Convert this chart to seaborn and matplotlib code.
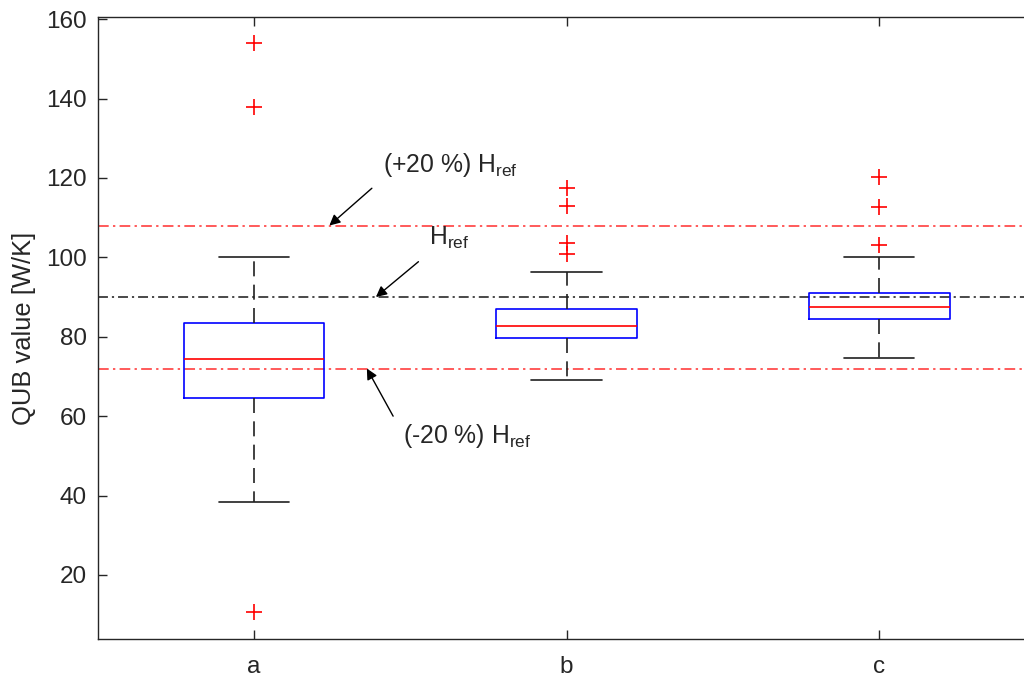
import matplotlib
matplotlib.use("Agg")
import matplotlib.pyplot as plt
import pandas as pd
import seaborn as sns

# five-number summary of each box
groups = ["a", "b", "c"]
whisker_low = [38.3, 69.1, 74.6]
q1 = [64.5, 79.7, 84.5]
median = [74.4, 82.6, 87.4]
q3 = [83.5, 87.0, 91.0]
whisker_high = [100.2, 96.3, 100.0]

# outliers (red crosses)
outlier_group = ["a", "a", "a", "b", "b", "b", "b", "c", "c", "c"]
outlier_value = [154.0, 137.9, 10.7, 117.5, 112.9, 103.6, 100.9, 120.2, 112.7, 103.2]

# reference levels
h_ref = 90
h_ref_plus = 108
h_ref_minus = 72

AXIS_COLOR = "#262626"


def main():
    sns.set_style("white")
    plt.rcParams["font.family"] = ["Liberation Sans", "DejaVu Sans"]
    plt.rcParams["text.color"] = AXIS_COLOR

    rows = []
    for i, g in enumerate(groups):
        for v in (whisker_low[i], q1[i], median[i], q3[i], whisker_high[i]):
            rows.append({"group": g, "value": v})
    box_df = pd.DataFrame(rows)
    out_df = pd.DataFrame({"group": outlier_group, "value": outlier_value})

    fig = plt.figure(figsize=(10.24, 6.77), dpi=100)
    ax = fig.add_axes([0.0954, 0.0557, 0.9046, 0.9196])

    # reference lines behind the boxes
    ref_ls = (0, (5.5, 2.2, 1.2, 2.2))
    ax.axhline(h_ref_plus, color="#ff5a5a", lw=1.4, ls=ref_ls, zorder=1)
    ax.axhline(h_ref, color="#3a3a3a", lw=1.3, ls=ref_ls, zorder=1)
    ax.axhline(h_ref_minus, color="#ff5a5a", lw=1.4, ls=ref_ls, zorder=1)

    sns.boxplot(data=box_df, x="group", y="value", order=groups, whis=(0, 100),
                width=0.45, fill=False, color="blue", linewidth=1.2,
                boxprops=dict(color="blue"),
                medianprops=dict(color="red"),
                whiskerprops=dict(color="#202020", linestyle=(0, (9, 5))),
                capprops=dict(color="#202020"),
                ax=ax)
    sns.stripplot(data=out_df, x="group", y="value", order=groups, jitter=False,
                  marker="+", color="red", size=11.5, linewidth=1.2, ax=ax)

    arrow = dict(arrowstyle="-|>", color="black", lw=1.0, mutation_scale=16, shrinkA=0, shrinkB=0)
    ax.annotate("", xy=(0.241, 108), xytext=(0.377, 117.4), arrowprops=arrow)
    ax.annotate("", xy=(0.390, 90), xytext=(0.526, 98.9), arrowprops=arrow)
    ax.annotate("", xy=(0.361, 72), xytext=(0.445, 60.0), arrowprops=arrow)

    ax.text(0.414, 121.5, r"(+20 %) H$_{\mathregular{ref}}$", fontsize=17.8, va="baseline")
    ax.text(0.560, 103.1, r"H$_{\mathregular{ref}}$", fontsize=17.8, va="baseline")
    ax.text(0.477, 53.3, r"(-20 %) H$_{\mathregular{ref}}$", fontsize=17.8, va="baseline")

    ax.set_xlim(-0.5, 2.463)
    ax.set_ylim(3.8, 160.6)
    ax.set_yticks(range(20, 161, 20))
    ax.set_xlabel("")
    ax.set_ylabel("QUB value [W/K]", fontsize=18.4, color=AXIS_COLOR, labelpad=7)

    for side in ["left", "bottom", "top"]:
        ax.spines[side].set_color(AXIS_COLOR)
        ax.spines[side].set_linewidth(1.0)
    ax.spines["right"].set_visible(False)
    ax.tick_params(axis="both", direction="in", length=6.5, width=1.0, color=AXIS_COLOR,
                   labelcolor=AXIS_COLOR, labelsize=17.5, top=True, bottom=True,
                   left=True, right=False)
    ax.tick_params(axis="y", pad=8)
    ax.tick_params(axis="x", pad=12)

    fig.savefig("out.png", dpi=100)


if __name__ == "__main__":
    main()
